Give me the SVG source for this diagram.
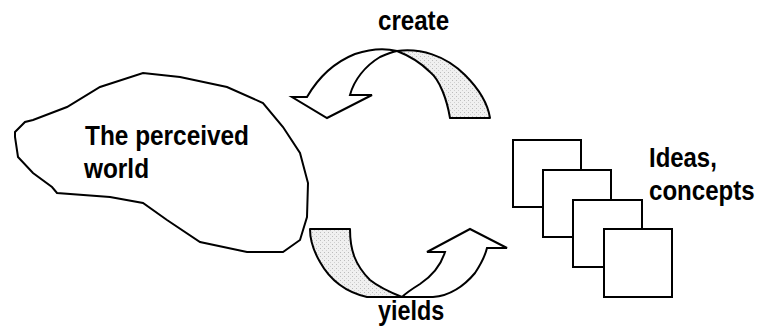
<svg xmlns="http://www.w3.org/2000/svg" width="759" height="330" viewBox="0 0 759 330">
<style>
.wh{fill:#fff;stroke:#000;stroke-width:2;stroke-linejoin:miter}
.sh{fill:url(#dots);stroke:#000;stroke-width:2;stroke-linejoin:round}
.sq{fill:#fff;stroke:#000;stroke-width:2}
text{font-family:"Liberation Sans",Arial,sans-serif;font-weight:bold;font-size:27.5px;fill:#000}
</style>
<defs>
<pattern id="dots" width="4" height="4" patternUnits="userSpaceOnUse">
<rect width="4" height="4" fill="#f0f0f0"/>
<rect x="0" y="0" width="1" height="1" fill="#bcbcbc"/>
<rect x="2" y="2" width="1" height="1" fill="#d0d0d0"/>
</pattern>
</defs>
<rect width="759" height="330" fill="#fff"/>
<g id="world">
<path class="wh" d="M15,132 L25,122 L33,120 L67,107 L100,87 L143,73 L180,77 L227,87 L263,103 L283,127 L300,153 L308,183 L307,217 L300,240 L283,252 L247,252 L200,242 L167,220 L143,203 L110,197 L57,193 L52,187 L33,173 L18,157 L15,137 Z"/>
<text transform="translate(85,145) scale(0.887,1)">The perceived</text>
<text transform="translate(84,178) scale(0.887,1)">world</text>
</g>
<g id="ideas">
<rect class="sq" x="513" y="140" width="68" height="67"/>
<rect class="sq" x="543" y="170" width="68" height="67"/>
<rect class="sq" x="573" y="200" width="69" height="67"/>
<rect class="sq" x="604" y="229" width="68" height="68"/>
<text transform="translate(649,167) scale(0.87,1)">Ideas,</text>
<text transform="translate(649,200) scale(0.875,1)">concepts</text>
</g>
<g id="connectors">
<g id="create">
<path class="sh" d="M397,51 C420,48 445,55 465,75 C480,90 488,105 490,118 L450,118 C447,100 440,80 430,72 C420,62 410,56 397,51 Z"/>
<path class="wh" d="M397,51 C385,48 370,49 355,54 C335,62 318,78 307,97 L292,97 L327,118 L372,95 L350,95 C354,80 365,66 380,57 C387,54 392,52 397,51 Z"/>
<text transform="translate(378,30) scale(0.877,1)">create</text>
</g>
<g id="yields">
<path class="sh" d="M310,229 L350,229 C350,250 355,265 370,280 C380,288 392,293 402,297 L367,297 C345,292 330,280 320,262 C313,250 310,240 310,229 Z"/>
<path class="wh" d="M402,297 L433,297 C450,296 465,285 475,273 C481,264 485,256 487,248 L507,248 L470,229 L427,252 L445,252 C441,265 432,276 420,284 C412,289 406,293 402,297 Z"/>
<text transform="translate(378,320) scale(0.85,1)">yields</text>
</g>
</g>
</svg>
